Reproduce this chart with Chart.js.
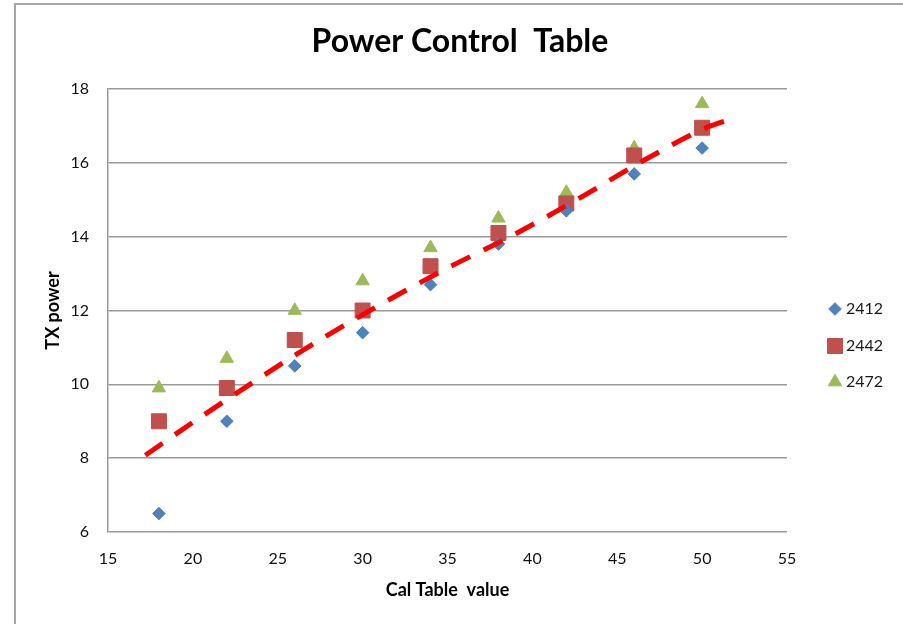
<!DOCTYPE html>
<html><head><meta charset="utf-8">
<script src="https://cdn.jsdelivr.net/npm/chart.js@4.4.1/dist/chart.umd.min.js"></script>
<style>
html,body{margin:0;padding:0;background:#fff;}
#wrap{position:relative;width:903px;height:624px;overflow:hidden;background:#fff;}
#frame{position:absolute;left:14px;top:3px;width:1000px;height:1000px;border-left:2px solid #a6a6a6;border-top:2px solid #a6a6a6;}
canvas{position:absolute;left:0;top:0;}
</style></head><body>
<div id="wrap"><div id="frame"></div><canvas id="c" width="903" height="624"></canvas></div>
<script>
// ---- data ----
const calValues = [18, 22, 26, 30, 34, 38, 42, 46, 50];
const power2412 = [6.5, 9.0, 10.5, 11.4, 12.7, 13.8, 14.7, 15.7, 16.4];
const power2442 = [9.0, 9.9, 11.2, 12.0, 13.2, 14.1, 14.9, 16.2, 16.95];
const power2472 = [9.9, 10.7, 12.0, 12.8, 13.7, 14.5, 15.2, 16.4, 17.6];
// trend line at several places along its length
const trendX = [17.2, 20.0, 23.7, 26.4, 31.2, 35.0, 38.9, 42.8, 46.5, 50.5, 51.8];
const trendY = [8.08, 8.97, 10.1, 10.9, 12.2, 13.15, 14.05, 15.05, 16.05, 17.0, 17.2];
const seriesNames = ['2412', '2442', '2472'];
const xTickValues = [15, 20, 25, 30, 35, 40, 45, 50, 55];
const yTickValues = [6, 8, 10, 12, 14, 16, 18];
const chartTitle = 'Power Control  Table';
const xTitle = 'Cal Table  value';
const yTitle = 'TX power';

const toPoints = (xs, ys) => xs.map((x, i) => ({x: x, y: ys[i]}));

const GRID = '#9a9a9a';
const FONT = 'Lato, "Open Sans", sans-serif';

const legendPlugin = {
  id: 'sideLegend',
  afterDraw(chart) {
    const ctx = chart.ctx;
    const rows = [309, 346, 382];
    let k = 0;
    chart.data.datasets.forEach(ds => {
      if (!ds.inLegend) return;
      const y = rows[k++];
      const x = 835;
      ctx.save();
      ctx.fillStyle = ds.backgroundColor;
      ctx.strokeStyle = ds.borderColor;
      ctx.lineWidth = 1;
      Chart.helpers.drawPoint(ctx, {pointStyle: ds.pointStyle, radius: ds.legendRadius, borderWidth: 1, rotation: 0}, x, y);
      ctx.fillStyle = '#1a1a1a';
      ctx.font = '16px ' + FONT;
      ctx.textBaseline = 'middle';
      ctx.textAlign = 'left';
      ctx.fillText(ds.label, 846, y);
      ctx.restore();
    });
  }
};

new Chart(document.getElementById('c'), {
  type: 'scatter',
  data: {
    datasets: [
      {
        label: 'trend',
        data: toPoints(trendX, trendY),
        showLine: true,
        cubicInterpolationMode: 'monotone',
        borderColor: '#ff0000',
        backgroundColor: '#ff0000',
        borderWidth: 5,
        borderDash: [21, 15],
        borderCapStyle: 'butt',
        pointRadius: 0,
        pointHoverRadius: 0,
        inLegend: false
      },
      {
        label: seriesNames[0],
        data: toPoints(calValues, power2412),
        pointStyle: 'rectRot',
        pointRadius: 6.3,
        legendRadius: 6.3,
        backgroundColor: '#4f81bd',
        borderColor: '#4f81bd',
        borderWidth: 1,
        inLegend: true
      },
      {
        label: seriesNames[1],
        data: toPoints(calValues, power2442),
        pointStyle: 'rect',
        pointRadius: 10.6,
        legendRadius: 10.6,
        backgroundColor: '#c0504d',
        borderColor: '#c0504d',
        borderWidth: 1,
        inLegend: true
      },
      {
        label: seriesNames[2],
        data: toPoints(calValues, power2472),
        pointStyle: 'triangle',
        pointRadius: 7.7,
        legendRadius: 7.7,
        backgroundColor: '#9bbb59',
        borderColor: '#9bbb59',
        borderWidth: 1,
        inLegend: true
      }
    ]
  },
  options: {
    responsive: false,
    animation: false,
    devicePixelRatio: 1,
    layout: {padding: {left: 17, right: 0, top: 0, bottom: 0}},
    plugins: {
      legend: {display: false},
      tooltip: {enabled: false},
      title: {
        display: true,
        text: chartTitle,
        color: '#000',
        font: {family: FONT, size: 32, weight: 'bold'},
        padding: {top: 22.8, bottom: 27.8}
      }
    },
    scales: {
      x: {
        type: 'linear',
        min: 15, max: 55,
        afterBuildTicks: s => { s.ticks = xTickValues.map(v => ({value: v})); },
        afterFit: s => { s.height = 92; },
        ticks: {color: '#111', font: {family: FONT, size: 16}, padding: 17},
        grid: {display: false, drawTicks: false},
        border: {display: false},
        title: {display: true, text: xTitle, color: '#000', font: {family: FONT, size: 18, weight: 'bold'}, padding: {top: 0, bottom: 22.7}}
      },
      y: {
        type: 'linear',
        min: 6, max: 18,
        afterBuildTicks: s => { s.ticks = yTickValues.map(v => ({value: v})); },
        afterFit: s => { s.width = 91; },
        ticks: {color: '#111', font: {family: FONT, size: 16}, padding: 19},
        grid: {color: GRID, lineWidth: 1.5, drawTicks: false},
        border: {display: true, color: GRID, width: 1.5},
        title: {display: true, text: yTitle, color: '#000', font: {family: FONT, size: 18, weight: 'bold'}, padding: {top: 25.7, bottom: 0}}
      },
      y2: {
        type: 'linear',
        position: 'right',
        min: 0, max: 1,
        afterFit: s => { s.width = 116; },
        ticks: {display: false},
        grid: {display: false, drawTicks: false},
        border: {display: false}
      }
    }
  },
  plugins: [legendPlugin]
});
</script>
</body></html>
